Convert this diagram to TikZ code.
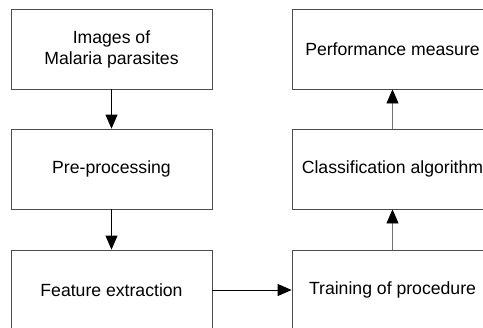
\documentclass[tikz,border=0pt]{standalone}
\usepackage{fontspec}
\setmainfont{Liberation Sans}
\usetikzlibrary{arrows.meta}
\begin{document}
\begin{tikzpicture}[x=1bp,y=-1bp,
  box/.style={draw=black!70,line width=0.8bp,minimum width=201bp,minimum height=80bp,inner sep=0pt,align=center,
    font=\fontsize{17.7}{21}\selectfont},
  conn/.style={line width=0.8bp,-{Triangle[length=14bp,width=12bp,color=black,fill=black]}}]
\useasboundingbox (0,0) rectangle (483,327);
\clip (0,0) rectangle (483,327);
\node[box] (img) at (111.5,49) {Images of\\Malaria parasites};
\node[box] (pre) at (111.5,169) {Pre-processing};
\node[box] (fe) at (111.5,290) {Feature extraction};
\node[box] (pm) at (392.5,49) {Performance measure};
\node[box] (ca) at (392.5,169) {Classification algorithm};
\node[box] (tp) at (392.5,290) {Training of procedure};
\draw[conn,draw=black] (img) -- (pre);
\draw[conn,draw=black] (pre) -- (fe);
\draw[conn,draw=black] (fe) -- (tp);
\draw[conn,draw=black!55] (tp) -- (ca);
\draw[conn,draw=black!55] (ca) -- (pm);
\end{tikzpicture}
\end{document}
